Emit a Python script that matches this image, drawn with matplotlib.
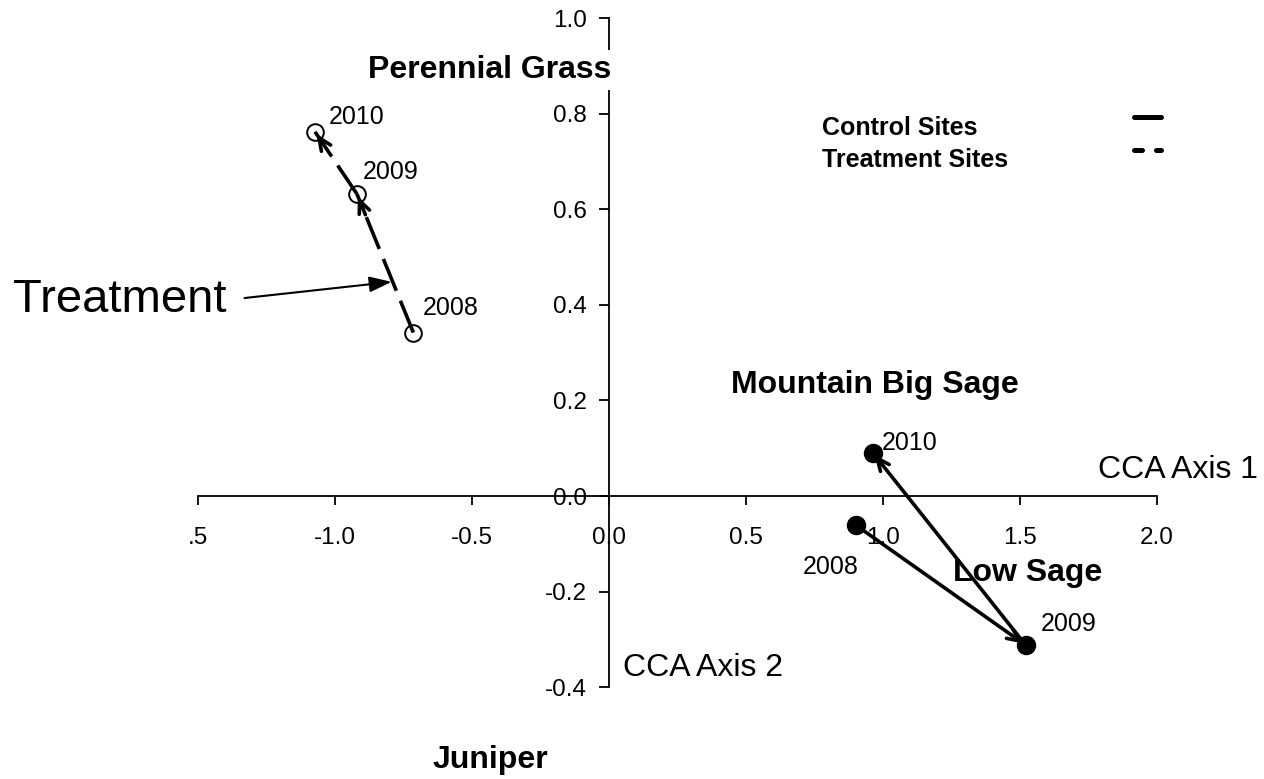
import matplotlib
matplotlib.use("Agg")
import matplotlib.pyplot as plt
from matplotlib.lines import Line2D

plt.rcParams['font.family'] = ['Liberation Sans', 'DejaVu Sans']

# ---- data ----
years = ["2008", "2009", "2010"]
treat_x = [-0.714, -0.920, -1.073]
treat_y = [0.342, 0.632, 0.762]
ctrl_x = [0.901, 1.521, 0.962]
ctrl_y = [-0.061, -0.312, 0.091]

# year label offsets (points)
treat_off = [(27, 18), (24, 16), (30, 11)]
ctrl_off = [(-18, -30), (31, 15), (27, 7)]

xticks = [-1.5, -1.0, -0.5, 0.0, 0.5, 1.0, 1.5, 2.0]
xticklabels = [".5", "-1.0", "-0.5", "0.0", "0.5", "1.0", "1.5", "2.0"]
yticks = [-0.4, -0.2, 0.0, 0.2, 0.4, 0.6, 0.8, 1.0]
yticklabels = ["-0.4", "-0.2", "0.0", "0.2", "0.4", "0.6", "0.8", "1.0"]

species = ["Perennial Grass", "Juniper", "Mountain Big Sage", "Low Sage"]
species_x = [-0.434, -0.434, 0.971, 1.526]
species_y = [0.891, -0.552, 0.232, -0.161]

legend_labels = ["Control Sites", "Treatment Sites"]

W, H = 1264, 779
fig = plt.figure(figsize=(W / 100, H / 100), dpi=100)
ax = fig.add_axes([0, 0, 1, 1])
ax.set_xlim(-2.2226, 2.3905)
ax.set_ylim(-0.592, 1.0377)
ax.patch.set_alpha(0)

# axes through origin
for s in ["top", "right"]:
    ax.spines[s].set_visible(False)
ax.spines["left"].set_position(("data", 0))
ax.spines["bottom"].set_position(("data", 0))
ax.spines["left"].set_bounds(-0.4, 1.0)
ax.spines["bottom"].set_bounds(-1.5, 2.0)
for s in ["left", "bottom"]:
    ax.spines[s].set_linewidth(1.3)
ax.set_xticks(xticks)
ax.set_xticklabels(xticklabels)
ax.set_yticks(yticks)
ax.set_yticklabels(yticklabels)
ax.tick_params(axis="x", direction="out", length=6.5, width=1.3, pad=16, labelsize=17.5)
ax.tick_params(axis="y", direction="out", length=7, width=1.3, pad=9, labelsize=17.5)

lw = 2.6
head = "->,head_length=0.9,head_width=0.4"
# treatment (dashed, open circles)
for i in range(len(treat_x) - 1):
    ax.plot(treat_x[i:i + 2], treat_y[i:i + 2], color="black", lw=lw,
            linestyle=(0, (9.5, 3.0)), solid_capstyle="butt", zorder=3)
    ax.annotate("", xy=(treat_x[i + 1], treat_y[i + 1]),
                xytext=(treat_x[i] + 0.85 * (treat_x[i + 1] - treat_x[i]),
                        treat_y[i] + 0.85 * (treat_y[i + 1] - treat_y[i])),
                arrowprops=dict(arrowstyle=head, color="black", lw=lw,
                                shrinkA=0, shrinkB=2),
                zorder=3)
ax.plot(treat_x, treat_y, linestyle="none", marker="o", markersize=12,
        markerfacecolor="none", markeredgecolor="black", markeredgewidth=1.4, zorder=4)

# control (solid, filled circles)
for i in range(len(ctrl_x) - 1):
    ax.annotate("", xy=(ctrl_x[i + 1], ctrl_y[i + 1]),
                xytext=(ctrl_x[i], ctrl_y[i]),
                arrowprops=dict(arrowstyle=head, color="black", lw=lw,
                                shrinkA=0, shrinkB=2),
                zorder=3)
ax.plot(ctrl_x, ctrl_y, linestyle="none", marker="o", markersize=13,
        markerfacecolor="black", markeredgecolor="black", zorder=4)

# year labels
for x, y, t, o in zip(treat_x, treat_y, years, treat_off):
    ax.annotate(t, (x, y), xytext=o, textcoords="offset points",
                ha="center", va="center", fontsize=18)
for x, y, t, o in zip(ctrl_x, ctrl_y, years, ctrl_off):
    ax.annotate(t, (x, y), xytext=o, textcoords="offset points",
                ha="center", va="center", fontsize=18)

# species labels
for t, x, y in zip(species, species_x, species_y):
    kw = {}
    if t == "Perennial Grass":
        kw["bbox"] = dict(boxstyle="square,pad=0.15", facecolor="white", edgecolor="none")
    ax.text(x, y, t, ha="center", va="center", fontsize=23, fontweight="bold", zorder=5, **kw)

ax.text(1.785, 0.054, "CCA Axis 1", ha="left", va="center", fontsize=23)
ax.text(0.051, -0.360, "CCA Axis 2", ha="left", va="center", fontsize=23)

# Treatment callout
ax.annotate("Treatment", xy=(-0.793, 0.448), xytext=(-2.175, 0.385),
            ha="left", va="baseline", fontsize=34,
            arrowprops=dict(arrowstyle="-|>,head_length=0.4,head_width=0.14",
                            color="black", lw=1.5, shrinkA=11, shrinkB=0,
                            relpos=(1.0, 0.5)))

# legend (text left-aligned, line sample on the right)
legend_styles = [dict(linestyle="-", solid_capstyle="round"),
                 dict(linestyle=(0, (1.6, 2.8)), dash_capstyle="round")]
text_y = [128, 160]
line_y = [117, 150]
for lab, st, ty, ly in zip(legend_labels, legend_styles, text_y, line_y):
    fig.text(822 / W, 1 - ty / H, lab, ha="left", va="center",
             fontsize=18, fontweight="bold")
    fig.add_artist(Line2D([1134 / W, 1161 / W], [1 - ly / H, 1 - ly / H],
                          transform=fig.transFigure, color="black", lw=3.6, **st))

fig.savefig("out.png", dpi=100)
